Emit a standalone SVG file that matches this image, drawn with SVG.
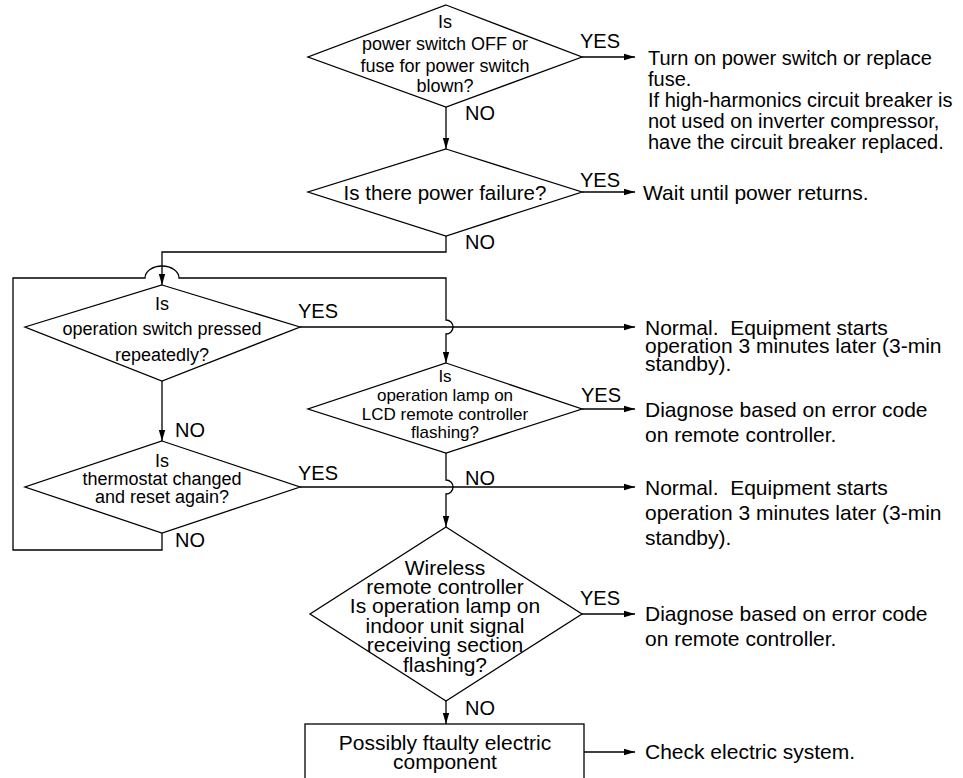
<svg xmlns="http://www.w3.org/2000/svg" width="963" height="778" viewBox="0 0 963 778">
<defs>
<style>
.n{fill:#fff;stroke:#000;stroke-width:1.3}
.c{fill:none;stroke:#000;stroke-width:1.3}
text{font-family:"Liberation Sans",Arial,Helvetica,sans-serif;fill:#000}
.t{text-anchor:middle}
.lb{font-size:20px}
.r{font-size:21px}
.r1{font-size:20px}
</style>
<marker id="ah" markerWidth="11" markerHeight="8" refX="11" refY="4" orient="auto" markerUnits="userSpaceOnUse"><path d="M0,0.8 L11,4 L0,7.2 Z" fill="#000"/></marker>
</defs>
<rect width="963" height="778" fill="#fff"/>

<g id="connectors">
<path class="c" d="M446,107 V149" marker-end="url(#ah)"/>
<path class="c" d="M582,57 H635" marker-end="url(#ah)"/>
<path class="c" d="M582,192 H635" marker-end="url(#ah)"/>
<path class="c" d="M446,236 V252 H162 V285" marker-end="url(#ah)"/>
<path class="c" d="M300,327 H635" marker-end="url(#ah)"/>
<path class="c" d="M162,381 V441" marker-end="url(#ah)"/>
<path class="c" d="M300,487 H635" marker-end="url(#ah)"/>
<path class="c" d="M162,533 V550 H13 V278 H145 A17,12 0 0 1 179,278 H446 V320 A7,7 0 0 1 446,334 V363" marker-end="url(#ah)"/>
<path class="c" d="M582,409 H635" marker-end="url(#ah)"/>
<path class="c" d="M446,453 V480 A7,7 0 0 1 446,494 V527" marker-end="url(#ah)"/>
<path class="c" d="M582,614 H635" marker-end="url(#ah)"/>
<path class="c" d="M446,701 V724" marker-end="url(#ah)"/>
<path class="c" d="M584,752 H635" marker-end="url(#ah)"/>
<text class="lb" x="580" y="48">YES</text>
<text class="lb" x="465" y="120">NO</text>
<text class="lb" x="580" y="187">YES</text>
<text class="lb" x="465" y="249">NO</text>
<text class="lb" x="298" y="318">YES</text>
<text class="lb" x="175" y="437">NO</text>
<text class="lb" x="581" y="402">YES</text>
<text class="lb" x="298" y="480">YES</text>
<text class="lb" x="465" y="485">NO</text>
<text class="lb" x="175" y="547">NO</text>
<text class="lb" x="580" y="605">YES</text>
<text class="lb" x="465" y="715">NO</text>
</g>

<g id="q-power-switch">
<polygon class="n" points="446,5 582,57 446,107 308,57"/>
<text class="t" x="445" y="28" font-size="18">Is</text>
<text class="t" x="445" y="50" font-size="18">power switch OFF or</text>
<text class="t" x="445" y="72" font-size="18">fuse for power switch</text>
<text class="t" x="445" y="92" font-size="18">blown?</text>
</g>

<g id="q-power-failure">
<polygon class="n" points="446,149 582,192 446,236 308,192"/>
<text class="t" x="445" y="200" font-size="20.5">Is there power failure?</text>
</g>

<g id="q-operation-switch">
<polygon class="n" points="162,285 300,327 162,381 25,327"/>
<text class="t" x="162" y="310" font-size="18">Is</text>
<text class="t" x="162" y="335" font-size="18">operation switch pressed</text>
<text class="t" x="162" y="361" font-size="18">repeatedly?</text>
</g>

<g id="q-thermostat">
<polygon class="n" points="162,441 300,487 162,533 25,487"/>
<text class="t" x="162" y="467" font-size="18">Is</text>
<text class="t" x="162" y="485" font-size="18">thermostat changed</text>
<text class="t" x="162" y="503" font-size="18">and reset again?</text>
</g>

<g id="q-lcd-lamp">
<polygon class="n" points="446,363 582,409 446,453 308,409"/>
<text class="t" x="445" y="382" font-size="17">Is</text>
<text class="t" x="445" y="401" font-size="17">operation lamp on</text>
<text class="t" x="445" y="420" font-size="17">LCD remote controller</text>
<text class="t" x="445" y="438" font-size="17">flashing?</text>
</g>

<g id="q-wireless-lamp">
<polygon class="n" points="446,527 582,614 446,701 310,614"/>
<text class="t" x="445" y="575" font-size="21">Wireless</text>
<text class="t" x="445" y="594" font-size="21">remote controller</text>
<text class="t" x="445" y="613" font-size="21">Is operation lamp on</text>
<text class="t" x="445" y="633" font-size="21">indoor unit signal</text>
<text class="t" x="445" y="652" font-size="21">receiving section</text>
<text class="t" x="445" y="672" font-size="21">flashing?</text>
</g>

<g id="box-electric">
<rect class="n" x="305" y="724" width="279" height="70"/>
<text class="t" x="445" y="750" font-size="21">Possibly ftaulty electric</text>
<text class="t" x="445" y="769" font-size="21">component</text>
</g>

<g id="r-power-switch">
<text class="r1" x="648" y="65">Turn on power switch or replace</text>
<text class="r1" x="648" y="86">fuse.</text>
<text class="r1" x="648" y="107">If high-harmonics circuit breaker is</text>
<text class="r1" x="648" y="128">not used on inverter compressor,</text>
<text class="r1" x="648" y="149">have the circuit breaker replaced.</text>
</g>

<g id="r-power-failure">
<text class="r" x="643" y="200">Wait until power returns.</text>
</g>

<g id="r-normal-1">
<text class="r" x="645" y="335" xml:space="preserve">Normal.  Equipment starts</text>
<text class="r" x="645" y="353">operation 3 minutes later (3-min</text>
<text class="r" x="645" y="371">standby).</text>
</g>

<g id="r-diagnose-1">
<text class="r" x="645" y="417">Diagnose based on error code</text>
<text class="r" x="645" y="442">on remote controller.</text>
</g>

<g id="r-normal-2">
<text class="r" x="645" y="495" xml:space="preserve">Normal.  Equipment starts</text>
<text class="r" x="645" y="520">operation 3 minutes later (3-min</text>
<text class="r" x="645" y="545">standby).</text>
</g>

<g id="r-diagnose-2">
<text class="r" x="645" y="621">Diagnose based on error code</text>
<text class="r" x="645" y="646">on remote controller.</text>
</g>

<g id="r-check">
<text class="r" x="645" y="759">Check electric system.</text>
</g>
</svg>
